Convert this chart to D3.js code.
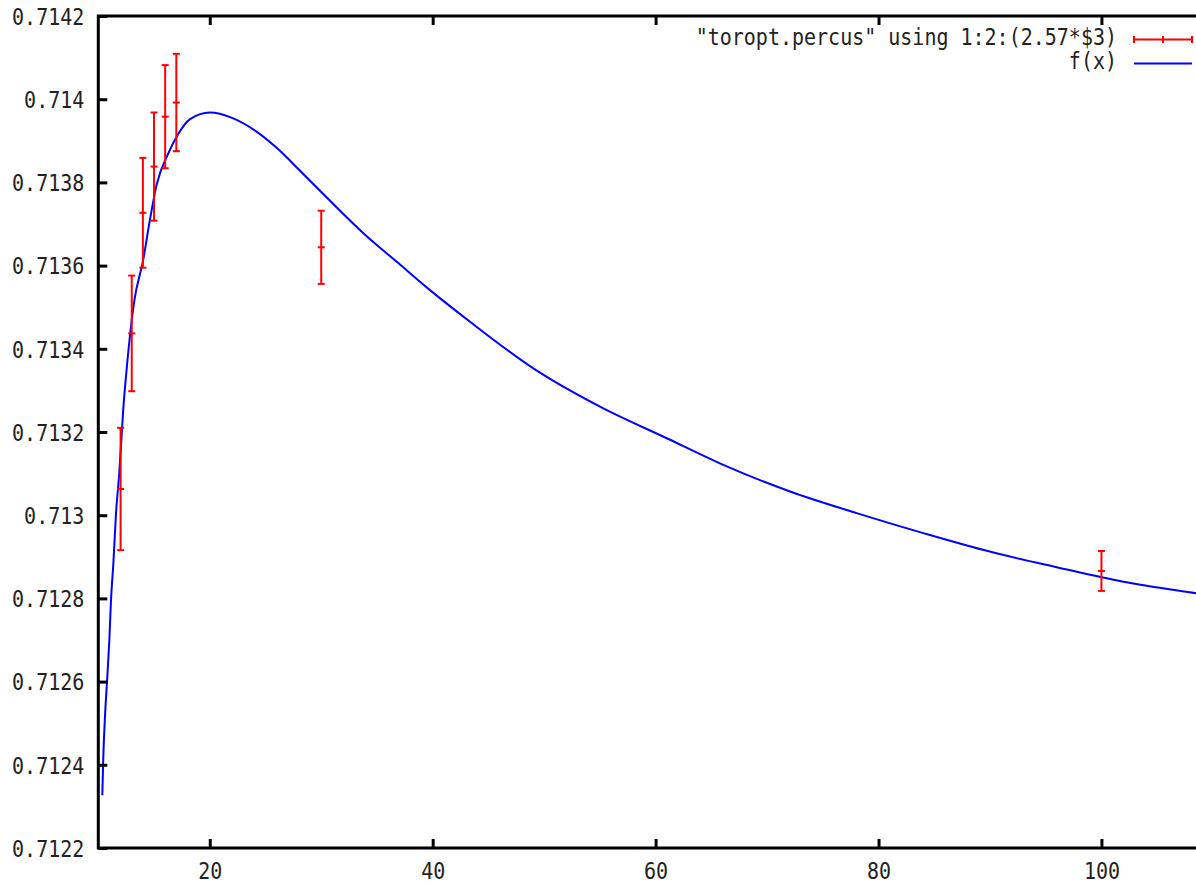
<!DOCTYPE html>
<html>
<head>
<meta charset="utf-8">
<script src="https://cdn.jsdelivr.net/npm/d3@7"></script>
<style>
  body { margin: 0; background: #fff; }
  svg { display: block; }
  text { font-family: "DejaVu Sans Mono", monospace; font-size: 20px; fill: #222; }
</style>
</head>
<body>
<svg></svg>
<script>
// measured points with error bars
const ptX = [12, 13, 14, 15, 16, 17, 30, 100]
const ptY = [0.713063, 0.713437, 0.713727, 0.713838, 0.713958, 0.713992, 0.713644, 0.712866]
const ptErr = [0.000147, 0.000139, 0.000132, 0.000130, 0.000124, 0.000117, 0.000088, 0.000048]

// fitted curve f(x)
const fitX = [10.36, 10.45, 10.6, 10.81, 10.99, 11.14, 11.35, 11.59, 11.88, 12.1, 12.24, 12.49,
  13.23, 14.04, 14.58, 15.24, 16.28, 17.12, 18.23, 20.02, 22, 24.2, 26, 28.1, 29.89, 33.78,
  36.92, 39.76, 43.35, 49.03, 55.01, 61.0, 66.07, 72.06, 78.04, 84.02, 90.06, 95.99, 101.96, 108.54, 110]
const fitY = [0.712327, 0.71242, 0.712516, 0.712612, 0.7127, 0.712796, 0.712884, 0.713005, 0.713101,
  0.713195, 0.713255, 0.713335, 0.713515, 0.713615, 0.713702, 0.713795, 0.71387, 0.713914, 0.713952,
  0.713968, 0.713955, 0.713922, 0.713883, 0.713828, 0.71378, 0.713678, 0.713606, 0.713541, 0.713465, 0.713353,
  0.713261, 0.713185, 0.713121, 0.713057, 0.713005, 0.712957, 0.712912, 0.712875, 0.71284, 0.712812, 0.712806]

const xTicks = [20, 40, 60, 80, 100]
const yTicks = [0.7122, 0.7124, 0.7126, 0.7128, 0.713, 0.7132, 0.7134, 0.7136, 0.7138, 0.714, 0.7142]

const legendLabels = ['"toropt.percus" using 1:2:(2.57*$3)', 'f(x)']

const W = 1196, H = 885
const plotLeft = 98.3, plotTop = 16, plotBottom = 848

const x = d3.scaleLinear().domain([10, 110]).range([plotLeft, plotLeft + 100 * 11.146])
const y = d3.scaleLinear().domain([0.7122, 0.7142]).range([plotBottom, plotTop])

const svg = d3.select("svg")
  .attr("width", W)
  .attr("height", H)
  .style("background", "#fff")

// curve
const line = d3.line()
  .x(function(d) { return x(d[0]) })
  .y(function(d) { return y(d[1]) })
  .curve(d3.curveMonotoneX)

svg.append("path")
  .datum(fitX.map(function(v, i) { return [v, fitY[i]] }))
  .attr("d", line)
  .attr("fill", "none")
  .attr("stroke", "#0000ff")
  .attr("stroke-width", 2)

// error bars
const pts = ptX.map(function(v, i) { return {x: v, y: ptY[i], e: ptErr[i]} })
const bars = svg.selectAll("g.bar")
  .data(pts).enter()
  .append("g")
  .attr("class", "bar")
  .attr("stroke", "#ff0000")
  .attr("stroke-width", 2)

bars.append("line")
  .attr("x1", function(d) { return x(d.x) })
  .attr("x2", function(d) { return x(d.x) })
  .attr("y1", function(d) { return y(d.y + d.e) })
  .attr("y2", function(d) { return y(d.y - d.e) })

bars.selectAll("line.cap")
  .data(function(d) { return [d.y + d.e, d.y, d.y - d.e].map(function(v) { return {x: d.x, v: v} }) })
  .enter().append("line")
  .attr("class", "cap")
  .attr("x1", function(d) { return x(d.x) - 3.5 })
  .attr("x2", function(d) { return x(d.x) + 3.5 })
  .attr("y1", function(d) { return y(d.v) })
  .attr("y2", function(d) { return y(d.v) })

// axes
const yAxis = svg.append("g")
  .attr("transform", "translate(" + plotLeft + ",0)")
  .call(d3.axisLeft(y).tickValues(yTicks).tickFormat(d3.format(".4~f")).tickSize(-9).tickPadding(14))

const xAxis = svg.append("g")
  .attr("transform", "translate(0," + plotBottom + ")")
  .call(d3.axisBottom(x).tickValues(xTicks).tickFormat(d3.format("d")).tickSize(-9).tickPadding(17))

const xTop = svg.append("g")
  .attr("transform", "translate(0," + plotTop + ")")
  .call(d3.axisTop(x).tickValues(xTicks).tickFormat("").tickSize(-9))

svg.selectAll(".domain").remove()
svg.selectAll(".tick line").attr("stroke", "#000").attr("stroke-width", 3)
svg.selectAll(".tick text")
  .attr("font-family", null).attr("font-size", null)
  .attr("fill", "#222")
  .attr("transform", "scale(1,1.15)")
yAxis.selectAll(".tick text").attr("dy", "0.36em")
xAxis.selectAll(".tick text").attr("y", 13).attr("dy", "0.71em")

// border (right edge lies outside the picture)
svg.append("path")
  .attr("d", "M" + W + "," + plotTop + "H" + plotLeft + "V" + plotBottom + "H" + W)
  .attr("fill", "none")
  .attr("stroke", "#000")
  .attr("stroke-width", 3)

// legend
const leg = svg.append("g")
const rowY = [39.5, 63.5]
leg.selectAll("text")
  .data(legendLabels).enter()
  .append("text")
  .attr("text-anchor", "end")
  .attr("transform", function(d, i) { return "translate(1117," + (rowY[i] + 5.5) + ") scale(1,1.15)" })
  .text(function(d) { return d })

leg.append("line")
  .attr("x1", 1134).attr("x2", 1192).attr("y1", rowY[0]).attr("y2", rowY[0])
  .attr("stroke", "#ff0000").attr("stroke-width", 2)
leg.selectAll("line.lcap")
  .data([1134, 1163, 1192]).enter()
  .append("line")
  .attr("class", "lcap")
  .attr("x1", function(d) { return d }).attr("x2", function(d) { return d })
  .attr("y1", rowY[0] - 3.5).attr("y2", rowY[0] + 3.5)
  .attr("stroke", "#ff0000").attr("stroke-width", 2)
leg.append("line")
  .attr("x1", 1134).attr("x2", 1192).attr("y1", rowY[1]).attr("y2", rowY[1])
  .attr("stroke", "#0000ff").attr("stroke-width", 2)
</script>
</body>
</html>
